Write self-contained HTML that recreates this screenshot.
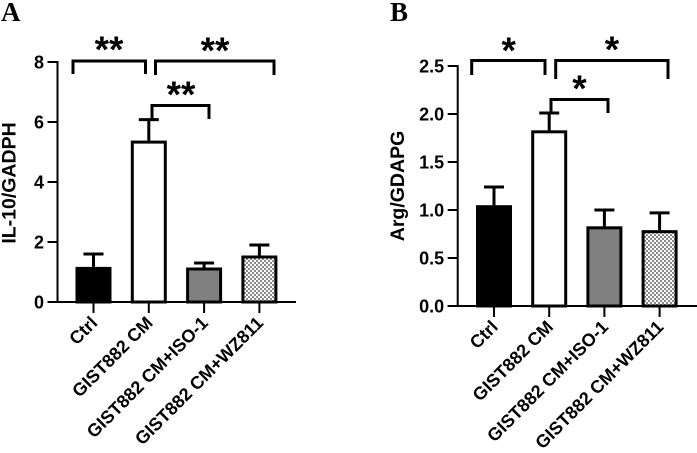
<!DOCTYPE html>
<html>
<head>
<meta charset="utf-8">
<style>
html,body{margin:0;padding:0;background:#fff;}
svg{display:block;}
text{font-family:"Liberation Sans",sans-serif;fill:#000;}
</style>
</head>
<body>
<svg id="figure" width="697" height="453" viewBox="0 0 697 453" xmlns="http://www.w3.org/2000/svg">
<defs>
<pattern id="check" width="4" height="4" patternUnits="userSpaceOnUse">
<rect width="4" height="4" fill="#fff"/>
<rect width="2" height="2" fill="#8a8a8a"/>
<rect x="2" y="2" width="2" height="2" fill="#8a8a8a"/>
</pattern>
</defs>
<text x="1" y="21" style="font-family:'Liberation Serif',serif;font-weight:bold;font-size:27px">A</text>
<text x="390" y="21" style="font-family:'Liberation Serif',serif;font-weight:bold;font-size:27px">B</text>
</svg>
<script>
var categories = ['Ctrl', 'GIST882 CM', 'GIST882 CM+ISO-1', 'GIST882 CM+WZ811'];
var barFills = ['#000', '#fff', '#808080', 'url(#check)'];

var valuesA = [1.17, 5.38, 1.15, 1.55];
var errorTopsA = [1.6, 6.08, 1.3, 1.9];
var ticksA = ['0', '2', '4', '6', '8'];

var valuesB = [1.05, 1.83, 0.83, 0.79];
var errorTopsB = [1.24, 2.01, 1.0, 0.97];
var ticksB = ['0.0', '0.5', '1.0', '1.5', '2.0', '2.5'];

var svg = document.getElementById('figure');
var NS = 'http://www.w3.org/2000/svg';

function add(tag, attrs, parent) {
  var el = document.createElementNS(NS, tag);
  for (var k in attrs) el.setAttribute(k, attrs[k]);
  (parent || svg).appendChild(el);
  return el;
}

function line(x1, y1, x2, y2, w, parent) {
  return add('line', {x1: x1, y1: y1, x2: x2, y2: y2, stroke: '#000', 'stroke-width': w}, parent);
}

function drawPanel(cfg) {
  var g = add('g', {});
  
  
  var maxTick = parseFloat(cfg.ticks[cfg.ticks.length - 1]);
  function yScale(v) { return cfg.y0 - (v / maxTick) * (cfg.y0 - cfg.yTop); }
  function xScale(i) { return cfg.xFirst + i * cfg.xStep; }

  cfg.values.forEach(function (v, i) {
    var cx = xScale(i);
    var top = yScale(v);
    var errorBar = add('path', {
      d: 'M' + cx + ' ' + top + 'V' + yScale(cfg.errors[i]) + 'M' + (cx - 10) + ' ' + yScale(cfg.errors[i]) + 'H' + (cx + 10),
      stroke: '#000', 'stroke-width': 3, fill: 'none'
    }, g);
    
    
    var bar = add('rect', {
      x: cx - 16.5, y: top + 1.5, width: 33, height: Math.max(0, cfg.y0 - top - 1.5),
      fill: barFills[i], stroke: '#000', 'stroke-width': 3
    }, g);
    
    
  });

  var yAxis = line(cfg.x0, cfg.yTop - 1, cfg.x0, cfg.y0 + 1, 2, g);
  
  
  var xAxis = line(cfg.x0 - 10, cfg.y0, cfg.xEnd, cfg.y0, 2, g);
  
  

  cfg.ticks.forEach(function (t) {
    var y = yScale(parseFloat(t));
    var tick = line(cfg.x0 - 10, y, cfg.x0, y, 2, g);
    
    
    var lab = add('text', {x: cfg.x0 - 13.5, y: y + 6.5, 'text-anchor': 'end', 'font-size': 18, 'font-weight': 'bold'}, g);
    lab.textContent = t;
    
    
  });

  categories.forEach(function (c, i) {
    var cx = xScale(i);
    var tick = line(cx, cfg.y0, cx, cfg.y0 + 11, 2, g);
    
    
    var lx = cx + 5, ly = cfg.y0 + 22;
    var lab = add('text', {x: lx, y: ly, 'text-anchor': 'end', 'font-size': 18, 'font-weight': 'bold',
      transform: 'rotate(-45 ' + lx + ' ' + ly + ')'}, g);
    lab.textContent = c;
    
    
  });

  var title = add('text', {x: 0, y: 0, 'text-anchor': 'middle', 'font-size': 19.5, 'font-weight': 'bold',
    transform: 'translate(' + cfg.titleX + ' ' + cfg.titleY + ') rotate(-90)'}, g);
  title.textContent = cfg.title;
  
  

  cfg.brackets.forEach(function (b) {
    var path = add('path', {
      d: 'M' + b[0] + ' ' + b[3] + 'V' + b[2] + 'H' + b[1] + 'V' + b[4],
      fill: 'none', stroke: '#000', 'stroke-width': b[8]
    }, g);
    
    
    var star = add('text', {x: b[5], y: b[6], 'text-anchor': 'middle', 'font-size': 37, 'font-weight': 'bold'}, g);
    star.textContent = b[7];
    
    
  });
}

drawPanel({
  name: 'panel-a-chart', x0: 57.5, xEnd: 296, y0: 302, yTop: 62,
  xFirst: 93.5, xStep: 55.3, values: valuesA, errors: errorTopsA, ticks: ticksA,
  title: 'IL-10/GADPH', titleX: 15.5, titleY: 183,
  brackets: [
    [73, 145.5, 61, 74, 74, 109, 62, '**', 3],
    [155.5, 274, 61, 75, 75, 215, 63, '**', 3],
    [152, 209, 105.5, 119, 119, 181, 107, '**', 3]
  ]
});

drawPanel({
  name: 'panel-b-chart', x0: 457.7, xEnd: 697, y0: 306, yTop: 66,
  xFirst: 494, xStep: 55.2, values: valuesB, errors: errorTopsB, ticks: ticksB,
  title: 'Arg/GDAPG', titleX: 404, titleY: 186,
  brackets: [
    [471.7, 545, 60.5, 75, 75, 508.7, 63, '*', 3],
    [555.7, 668, 60.5, 79, 79, 612, 62, '*', 3],
    [551, 608, 99.5, 113, 113, 579.5, 101, '*', 3]
  ]
});
</script>
</body>
</html>
